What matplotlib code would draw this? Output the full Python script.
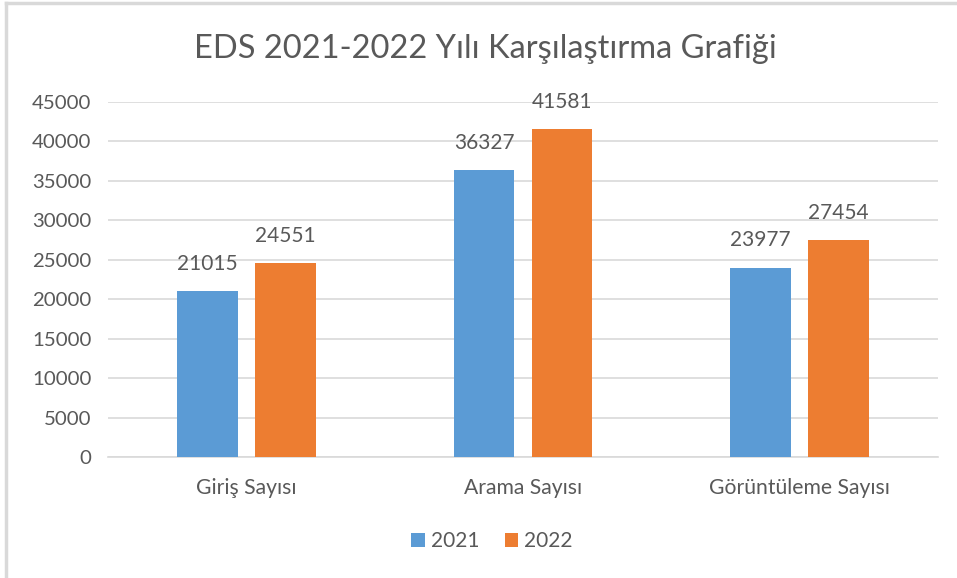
import matplotlib.pyplot as plt
import numpy as np

# chart data
categories = ['Giriş Sayısı', 'Arama Sayısı', 'Görüntüleme Sayısı']
years = ['2021', '2022']
values_2021 = [21015, 36327, 23977]
values_2022 = [24551, 41581, 27454]
yticks = [0, 5000, 10000, 15000, 20000, 25000, 30000, 35000, 40000, 45000]

colors = ['#5B9BD5', '#ED7D31']
txt = '#595959'
plt.rcParams['font.family'] = ['Lato', 'DejaVu Sans']

fig = plt.figure(figsize=(9.57, 5.78), dpi=100)
ax = fig.add_axes([108/957, 1-457/578, 830/957, 355/578])

x = np.arange(len(categories))
w = 0.22
gap = 0.062
for i, (vals, lab) in enumerate(zip([values_2021, values_2022], years)):
    off = (-1 if i == 0 else 1) * (w + gap) / 2
    bars = ax.bar(x + off, vals, w, color=colors[i], label=lab, zorder=3)
    for b, v in zip(bars, vals):
        ax.text(b.get_x() + b.get_width()/2, v + 2200, str(v), ha='center', va='bottom',
                fontsize=15, color=txt)

ax.set_xlim(-0.5, len(categories) - 0.5)
ax.set_ylim(0, 45000)
ax.set_yticks(yticks)
ax.set_yticklabels([str(t) for t in yticks], fontsize=14.7, color=txt)
ax.set_xticks(x)
ax.set_xticklabels(categories, fontsize=15.2, color=txt)
ax.tick_params(axis='both', length=0)
ax.tick_params(axis='y', pad=12)
ax.tick_params(axis='x', pad=15)
ax.grid(axis='y', color='#D9D9D9', linewidth=1.2, zorder=0)
for s in ['top', 'right', 'left']:
    ax.spines[s].set_visible(False)
ax.spines['bottom'].set_color('#D9D9D9')
ax.spines['bottom'].set_linewidth(1.2)

fig.text(485/957, 1-49/578, 'EDS 2021-2022 Yılı Karşılaştırma Grafiği', ha='center', va='center',
         fontsize=23.5, color=txt)

fig.legend(loc='center', bbox_to_anchor=(492/957, 1-541/578), ncol=2, frameon=False,
           fontsize=15, labelcolor=txt, handlelength=0.65, handleheight=0.65,
           handletextpad=0.3, columnspacing=1.2)

# light border around the chart
fig.add_artist(plt.Line2D([6/957, 6/957], [0, 1-3/578], color='#D9D9D9', linewidth=2.5))
fig.add_artist(plt.Line2D([6/957, 1], [1-3/578, 1-3/578], color='#D9D9D9', linewidth=2.5))

fig.savefig('out.png', dpi=100)
